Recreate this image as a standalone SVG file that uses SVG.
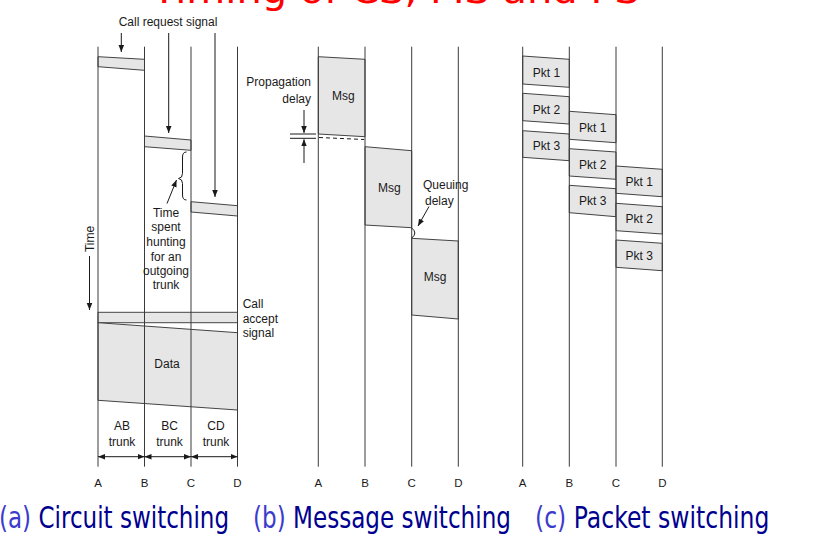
<svg xmlns="http://www.w3.org/2000/svg" width="822" height="539" viewBox="0 0 822 539">
<style>
.bg{fill:#ffffff}
.ln{stroke:#3a3a3a;stroke-width:1;fill:none}
.box{fill:#e6e6e6;stroke:#444444;stroke-width:1}
.t{font-family:"Liberation Sans",Arial,sans-serif;font-size:12px;fill:#1a1a1a}
.tm{text-anchor:middle}
.tr{text-anchor:end}
.lab{font-family:"Liberation Sans",Arial,sans-serif;font-size:11.5px;fill:#1a1a1a;text-anchor:middle}
.arr{stroke:#1a1a1a;stroke-width:1;fill:none}
.cap{font-family:"DejaVu Sans",sans-serif;font-size:30px;fill:#00008f}
.capk{fill:#3b3bcc}
</style>
<defs>
<marker id="ah" viewBox="0 0 10 10" refX="10" refY="5" markerWidth="7" markerHeight="7" markerUnits="userSpaceOnUse" orient="auto-start-reverse">
<path d="M0,1 L10,5 L0,9 z" fill="#1a1a1a"/>
</marker>
</defs>
<rect class="bg" x="0" y="0" width="822" height="539"/>

<text x="152" y="3" font-family="DejaVu Sans, sans-serif" font-size="38" fill="#ff0000" textLength="488" lengthAdjust="spacingAndGlyphs">Timing of CS, MS and PS</text>

<!-- Circuit switching -->
<g id="cs-band1"><polygon class="box" points="98,56.7 144.5,59.3 144.5,70.3 98,66.7"/></g>
<g id="cs-band2"><polygon class="box" points="144.5,136 191,140 191,150.3 144.5,146.7"/></g>
<g id="cs-band3"><polygon class="box" points="191,201.7 237.5,205.7 237.5,216 191,212"/></g>
<g id="cs-accept"><rect class="box" x="98" y="312.3" width="139.5" height="10.4"/></g>
<g id="cs-data"><polygon class="box" points="98,322.7 237.5,332.7 237.5,410 98,400.3"/>
<text class="t tm" x="167" y="368">Data</text></g>

<!-- Message switching -->
<g id="ms-msg1"><polygon class="box" points="318.3,56.7 365,59.3 365,136.7 318.3,134"/>
<text class="t tm" x="343.3" y="100">Msg</text></g>
<g id="ms-msg2"><polygon class="box" points="365,146.7 411.7,150.7 411.7,227.7 365,225"/>
<text class="t tm" x="389.3" y="192">Msg</text></g>
<g id="ms-msg3"><polygon class="box" points="411.7,238.3 458.3,241 458.3,319 411.7,315"/>
<text class="t tm" x="435" y="281">Msg</text></g>

<!-- Packet switching -->
<g id="ps-ab1"><polygon class="box" points="522.7,56 569.3,59.3 569.3,87.3 522.7,84"/><text class="t tm" x="546.5" y="77">Pkt 1</text></g>
<g id="ps-ab2"><polygon class="box" points="522.7,93.3 569.3,96.7 569.3,124 522.7,120.7"/><text class="t tm" x="546.5" y="113.5">Pkt 2</text></g>
<g id="ps-ab3"><polygon class="box" points="522.7,130.7 569.3,134 569.3,160.7 522.7,157.3"/><text class="t tm" x="546.5" y="150">Pkt 3</text></g>
<g id="ps-bc1"><polygon class="box" points="569.3,111.3 616,114.7 616,142.7 569.3,139.3"/><text class="t tm" x="592.7" y="131.5">Pkt 1</text></g>
<g id="ps-bc2"><polygon class="box" points="569.3,148.7 616,152 616,179.3 569.3,176"/><text class="t tm" x="592.7" y="168.5">Pkt 2</text></g>
<g id="ps-bc3"><polygon class="box" points="569.3,185.3 616,188.7 616,216.7 569.3,212.7"/><text class="t tm" x="592.7" y="205">Pkt 3</text></g>
<g id="ps-cd1"><polygon class="box" points="616,166 662.3,169.3 662.3,196.7 616,193.3"/><text class="t tm" x="639.3" y="186">Pkt 1</text></g>
<g id="ps-cd2"><polygon class="box" points="616,203.3 662.3,206.7 662.3,234 616,230.7"/><text class="t tm" x="639.3" y="223">Pkt 2</text></g>
<g id="ps-cd3"><polygon class="box" points="616,240 662.3,243.3 662.3,270.7 616,267.3"/><text class="t tm" x="639.3" y="260">Pkt 3</text></g>

<!-- node lines -->
<g id="node-lines" class="ln">
<line x1="98" y1="46.7" x2="98" y2="466.7"/>
<line x1="144.5" y1="46.7" x2="144.5" y2="466.7"/>
<line x1="191" y1="46.7" x2="191" y2="466.7"/>
<line x1="237.5" y1="46.7" x2="237.5" y2="466.7"/>
<line x1="318.3" y1="46.7" x2="318.3" y2="466.7"/>
<line x1="365" y1="46.7" x2="365" y2="466.7"/>
<line x1="411.7" y1="46.7" x2="411.7" y2="466.7"/>
<line x1="458.3" y1="46.7" x2="458.3" y2="466.7"/>
<line x1="522.7" y1="46.7" x2="522.7" y2="466.7"/>
<line x1="569.3" y1="46.7" x2="569.3" y2="466.7"/>
<line x1="616" y1="46.7" x2="616" y2="466.7"/>
<line x1="662.3" y1="46.7" x2="662.3" y2="466.7"/>
</g>

<!-- node letters -->
<g id="letters">
<text class="lab" x="98" y="486.7">A</text><text class="lab" x="144.5" y="486.7">B</text><text class="lab" x="191" y="486.7">C</text><text class="lab" x="237.5" y="486.7">D</text>
<text class="lab" x="318.3" y="486.7">A</text><text class="lab" x="365" y="486.7">B</text><text class="lab" x="411.7" y="486.7">C</text><text class="lab" x="458.3" y="486.7">D</text>
<text class="lab" x="522.7" y="486.7">A</text><text class="lab" x="569.3" y="486.7">B</text><text class="lab" x="616" y="486.7">C</text><text class="lab" x="662.3" y="486.7">D</text>
</g>

<!-- labels -->
<g id="labels">
<text class="t tm" x="168" y="26">Call request signal</text>
<text class="t tm" x="166"><tspan x="166" y="216.5">Time</tspan><tspan x="166" y="231">spent</tspan><tspan x="166" y="246">hunting</tspan><tspan x="166" y="260.5">for an</tspan><tspan x="166" y="275">outgoing</tspan><tspan x="166" y="289">trunk</tspan></text>
<text class="t"><tspan x="242.7" y="307.5">Call</tspan><tspan x="242.7" y="323">accept</tspan><tspan x="242.7" y="337">signal</tspan></text>
<text class="t tm" transform="translate(93.5,239) rotate(-90)" x="0" y="0">Time</text>
<text class="t tm"><tspan x="122" y="429.5">AB</tspan><tspan x="122" y="446">trunk</tspan></text>
<text class="t tm"><tspan x="169.5" y="429.5">BC</tspan><tspan x="169.5" y="446">trunk</tspan></text>
<text class="t tm"><tspan x="216" y="429.5">CD</tspan><tspan x="216" y="446">trunk</tspan></text>
<text class="t tr"><tspan x="311" y="86">Propagation</tspan><tspan x="311" y="102.5">delay</tspan></text>
<text class="t"><tspan x="423" y="189">Queuing</tspan><tspan x="425" y="204.5">delay</tspan></text>
</g>

<!-- connectors -->
<g id="connectors">
<line class="arr" x1="121.3" y1="33" x2="121.3" y2="52" marker-end="url(#ah)"/>
<line class="arr" x1="168.7" y1="33" x2="168.7" y2="133" marker-end="url(#ah)"/>
<line class="arr" x1="215" y1="33" x2="215" y2="197" marker-end="url(#ah)"/>
<path class="arr" d="M186.5,152 Q182.5,152 182.5,157 L182.5,173.5 Q182.5,178 178.5,178.5 Q182.5,179 182.5,183.5 L182.5,195 Q182.5,200 186.5,200"/>
<line class="arr" x1="167" y1="203.5" x2="176.5" y2="180" marker-end="url(#ah)"/>
<line class="arr" x1="89.5" y1="256" x2="89.5" y2="310" marker-end="url(#ah)"/>
<line class="arr" x1="98" y1="456.7" x2="144.5" y2="456.7" marker-start="url(#ah)" marker-end="url(#ah)"/>
<line class="arr" x1="144.5" y1="456.7" x2="191" y2="456.7" marker-start="url(#ah)" marker-end="url(#ah)"/>
<line class="arr" x1="191" y1="456.7" x2="237.5" y2="456.7" marker-start="url(#ah)" marker-end="url(#ah)"/>
<line class="arr" x1="290" y1="134" x2="316" y2="134"/>
<line class="arr" x1="290" y1="138.3" x2="316" y2="138.3"/>
<line class="arr" x1="304" y1="110" x2="304" y2="133" marker-end="url(#ah)"/>
<line class="arr" x1="304" y1="163" x2="304" y2="139.3" marker-end="url(#ah)"/>
<line class="arr" x1="319" y1="137.5" x2="364" y2="139.5" stroke-dasharray="4,3"/>
<path class="arr" d="M411.7,228 Q418,233 411.7,238"/>
<line class="arr" x1="429" y1="206.5" x2="418" y2="226" marker-end="url(#ah)"/>
</g>

<!-- captions -->
<g id="captions" class="cap">
<text transform="translate(-1,528) scale(0.767,1)" x="0" y="0" textLength="300" lengthAdjust="spacingAndGlyphs"><tspan class="capk">(a)</tspan> Circuit switching</text>
<text transform="translate(253,528) scale(0.770,1)" x="0" y="0" textLength="335" lengthAdjust="spacingAndGlyphs"><tspan class="capk">(b)</tspan> Message switching</text>
<text transform="translate(535,528) scale(0.776,1)" x="0" y="0" textLength="302" lengthAdjust="spacingAndGlyphs"><tspan class="capk">(c)</tspan> Packet switching</text>
</g>
</svg>
